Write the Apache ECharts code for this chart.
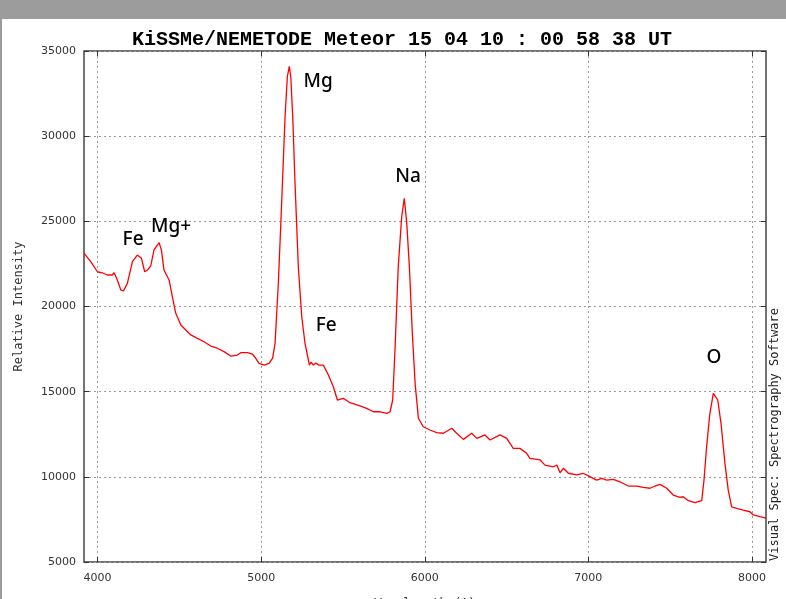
<!DOCTYPE html>
<html><head><meta charset="utf-8">
<script src="https://cdn.jsdelivr.net/npm/echarts@6/dist/echarts.min.js"></script>
<style>html,body{margin:0;padding:0;background:#fff}#c{width:786px;height:599px}</style>
</head><body><div id="c"></div>
<script>
const wavelengths = [3918,3958,3999,4029,4060,4090,4101,4121,4142,4158,4182,4213,4243,4268,4288,4304,4325,4345,4376,4390,4406,4437,4457,4478,4509,4539,4570,4610,4651,4692,4732,4773,4814,4854,4875,4916,4946,4967,4987,5018,5048,5070,5085,5105,5126,5146,5160,5172,5181,5193,5207,5227,5248,5268,5295,5305,5319,5335,5350,5380,5411,5441,5466,5502,5543,5604,5645,5686,5727,5768,5788,5804,5818,5838,5859,5875,5890,5906,5924,5941,5961,5991,6032,6073,6114,6165,6195,6236,6287,6318,6368,6399,6460,6501,6541,6582,6623,6643,6705,6735,6786,6807,6827,6847,6878,6929,6969,7010,7051,7082,7112,7153,7193,7244,7296,7336,7377,7407,7438,7479,7519,7560,7580,7611,7652,7693,7707,7723,7743,7764,7774,7791,7811,7835,7855,7876,7907,7947,7988,8008,8049,8086];
const intensities = [23120,22630,22040,21980,21850,21850,21980,21560,20970,20910,21360,22630,23020,22830,22040,22140,22380,23320,23750,23320,22140,21560,20580,19600,18910,18620,18330,18130,17930,17680,17550,17350,17090,17150,17290,17290,17210,16960,16660,16560,16660,16970,17840,21360,26250,31140,33490,34100,33490,31140,27230,22340,19400,17840,16560,16740,16560,16680,16560,16560,15980,15290,14510,14610,14350,14160,14020,13820,13820,13730,13820,14510,17450,22340,25270,26350,24880,22340,18430,15490,13440,12940,12750,12590,12560,12850,12560,12200,12560,12260,12460,12160,12460,12260,11670,11670,11380,11090,10990,10690,10590,10690,10240,10500,10210,10110,10210,10010,9810,9910,9810,9850,9710,9460,9460,9380,9330,9460,9560,9330,8930,8800,8830,8600,8480,8600,9810,11770,13730,14900,15000,14510,13140,10790,9230,8240,8150,8050,7950,7760,7660,7580];
const xTicks = [4000, 5000, 6000, 7000, 8000];
const annotNames = ['Fe', 'Mg+', 'Mg', 'Na', 'Fe', 'O'];
const annotX = [4217, 4449, 5348, 5898, 5397, 7768];
const annotY = [23900, 24670, 33180, 27600, 18860, 16980];
const titleText = 'KiSSMe/NEMETODE Meteor 15 04 10 : 00 58 38 UT';
const xName = 'Wavelength (A)';
const yName = 'Relative Intensity';
const sideText = 'Visual Spec: Spectrography Software';

const spectrum = wavelengths.map((w, i) => [w, intensities[i]]);
const annots = annotNames.map((n, i) => ({ name: n, value: [annotX[i], annotY[i]] }));

const tickColor = '#333';
const labelFont = { fontFamily: 'DejaVu Sans', fontSize: 11, color: '#333', formatter: v => String(v) };
const grid = { lineStyle: { color: '#9a9a9a', type: [2, 3], width: 1 } };

const chart = echarts.init(document.getElementById('c'), null, { renderer: 'canvas' });
chart.setOption({
  animation: false,
  backgroundColor: '#fff',
  title: {
    text: titleText, left: 127, top: 25,
    textStyle: { fontFamily: 'Liberation Mono', fontWeight: 'bold', fontSize: 20, color: '#000' }
  },
  grid: { left: 84, right: 20, top: 51, bottom: 37, show: true, borderColor: '#444', borderWidth: 1.5,
          containLabel: false, outerBoundsMode: 'none' },
  xAxis: [
    {
      type: 'value', min: 3917, max: 8086, position: 'bottom',
      axisLine: { show: false },
      axisTick: { inside: true, length: 5, customValues: xTicks, lineStyle: { color: tickColor } },
      axisLabel: Object.assign({ customValues: xTicks, margin: 11 }, labelFont),
      splitLine: Object.assign({ show: true }, grid),
      name: xName, nameLocation: 'middle', nameGap: 36,
      nameTextStyle: { fontFamily: 'DejaVu Sans Mono', fontSize: 12, color: '#333', verticalAlign: 'top' }
    },
    {
      type: 'value', min: 3917, max: 8086, position: 'top',
      axisLine: { show: false },
      axisTick: { inside: true, length: 5, customValues: xTicks, lineStyle: { color: tickColor } },
      axisLabel: { show: false }, splitLine: { show: false }
    }
  ],
  yAxis: [
    {
      type: 'value', min: 5000, max: 35000, interval: 5000, position: 'left',
      axisLine: { show: false },
      axisTick: { inside: true, length: 5, lineStyle: { color: tickColor } },
      axisLabel: Object.assign({ margin: 8 }, labelFont),
      splitLine: Object.assign({ show: true }, grid),
      name: yName, nameLocation: 'middle', nameGap: 59,
      nameTextStyle: { fontFamily: 'DejaVu Sans Mono', fontSize: 12, color: '#333' }
    },
    {
      type: 'value', min: 5000, max: 35000, interval: 5000, position: 'right',
      axisLine: { show: false },
      axisTick: { inside: true, length: 5, lineStyle: { color: tickColor } },
      axisLabel: { show: false }, splitLine: { show: false }
    }
  ],
  series: [
    {
      type: 'line', data: spectrum, xAxisIndex: 0, yAxisIndex: 0,
      showSymbol: false, symbol: 'none',
      lineStyle: { color: '#ff0000', width: 1.3 }
    },
    {
      type: 'scatter', data: annots, xAxisIndex: 0, yAxisIndex: 0,
      symbolSize: 1, itemStyle: { color: '#ffffff', opacity: 0 },
      label: {
        show: true, position: 'inside', formatter: p => p.name, opacity: 1,
        fontFamily: 'Noto Sans', fontSize: 19, fontWeight: 500, color: '#000',
        textBorderWidth: 0
      },
      emphasis: { disabled: true }
    }
  ],
  graphic: [
    { type: 'rect', left: 0, top: 0, shape: { width: 786, height: 19 }, style: { fill: '#9c9c9c' } },
    { type: 'rect', left: 0, top: 19, shape: { width: 2, height: 580 }, style: { fill: '#9c9c9c' } },
    {
      type: 'text', x: 775, y: 561, rotation: Math.PI / 2,
      style: { text: sideText, fontFamily: 'DejaVu Sans Mono', fontSize: 12, fill: '#222', align: 'left', verticalAlign: 'middle' }
    }
  ]
});
</script>
</body></html>
